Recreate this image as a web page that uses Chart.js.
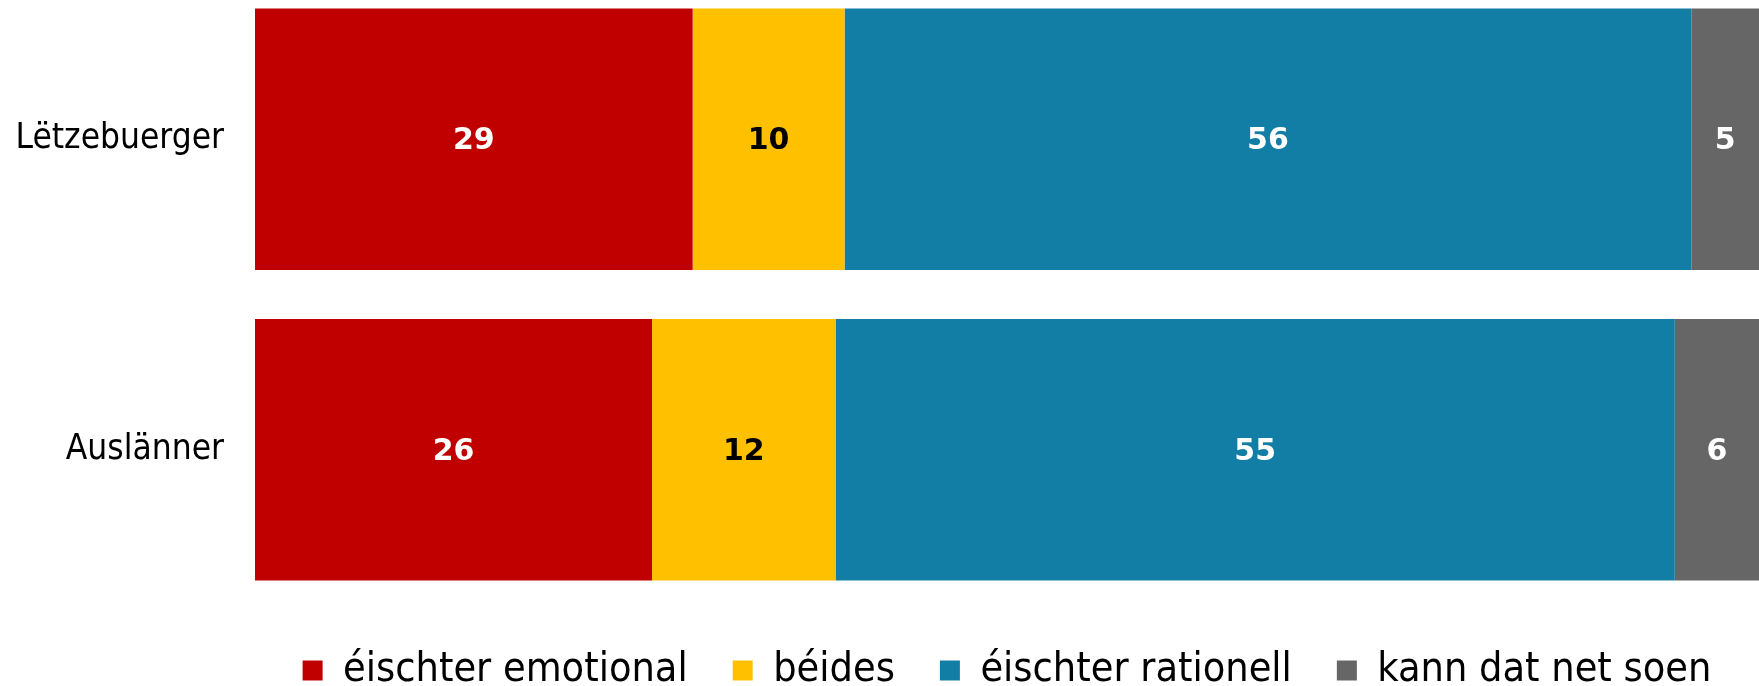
<!DOCTYPE html>
<html>
<head>
<meta charset="utf-8">
<title>éischter emotional / rationell</title>
<script src="https://cdn.jsdelivr.net/npm/chart.js@4/dist/chart.umd.min.js"></script>
<style>
    html, body { margin: 0; padding: 0; background: #fff; overflow: hidden; }
    .wrap { position: absolute; left: 0; top: -16px; width: 1759px; height: 717px; }
</style>
</head>
<body>
<div class="wrap"><canvas id="chart"></canvas></div>
<script>
'use strict';

const groups = ['Lëtzebuerger', 'Auslänner']
const seriesNames = ['éischter emotional', 'béides', 'éischter rationell', 'kann dat net soen']

// bar lengths (percent)
const emotionalData = [29.1, 26.4]
const bothData = [10.1, 12.2]
const rationalData = [56.3, 55.8]
const dontKnowData = [4.5, 5.6]

// numbers printed on the bars
const emotionalLabels = [29, 26]
const bothLabels = [10, 12]
const rationalLabels = [56, 55]
const dontKnowLabels = [5, 6]

const barColors = ['#C00000', '#FFC000', '#127DA5', '#666666']
const labelColors = ['#ffffff', '#000000', '#ffffff', '#ffffff']
const printed = [emotionalLabels, bothLabels, rationalLabels, dontKnowLabels]

// writes the value in the middle of every bar piece
const barLabels = {
    id: 'barLabels',
    afterDatasetsDraw(chart) {
        const ctx = chart.ctx
        ctx.save()
        ctx.font = 'bold 30px "DejaVu Sans"'
        ctx.textAlign = 'center'
        ctx.textBaseline = 'middle'
        chart.data.datasets.forEach((ds, i) => {
            const meta = chart.getDatasetMeta(i)
            meta.data.forEach((bar, j) => {
                ctx.fillStyle = labelColors[i]
                ctx.fillText(printed[i][j], (bar.x + bar.base) / 2, bar.y + 2)
            })
        })
        ctx.restore()
    }
}

function makeDataset(name, values, color) {
    return {
        label: name,
        data: values,
        backgroundColor: color,
        borderWidth: 0,
        barPercentage: 0.842,
        categoryPercentage: 1
    }
}

const ctx = document.getElementById('chart').getContext('2d')
const chart = new Chart(ctx, {
    type: 'bar',
    data: {
        labels: groups,
        datasets: [
            makeDataset(seriesNames[0], emotionalData, barColors[0]),
            makeDataset(seriesNames[1], bothData, barColors[1]),
            makeDataset(seriesNames[2], rationalData, barColors[2]),
            makeDataset(seriesNames[3], dontKnowData, barColors[3])
        ]
    },
    options: {
        indexAxis: 'y',
        responsive: true,
        maintainAspectRatio: false,
        animation: false,
        layout: { padding: 0 },
        scales: {
            x: { display: false, stacked: true, min: 0, max: 100 },
            y: {
                stacked: true,
                grid: { display: false, drawTicks: false },
                border: { display: false },
                ticks: {
                    padding: 31,
                    color: '#000',
                    font: { family: '"DejaVu Sans Condensed"', size: 35 }
                },
                afterFit(scale) {
                    scale.width = 255
                    scale.paddingTop = 0
                    scale.paddingBottom = 0
                }
            }
        },
        plugins: {
            tooltip: { enabled: false },
            legend: {
                position: 'bottom',
                fullSize: false,
                labels: {
                    boxWidth: 20,
                    boxHeight: 20,
                    padding: 45,
                    color: '#000',
                    font: { family: '"DejaVu Sans Condensed"', size: 41 }
                }
            }
        }
    },
    plugins: [barLabels]
})
</script>
</body>
</html>
